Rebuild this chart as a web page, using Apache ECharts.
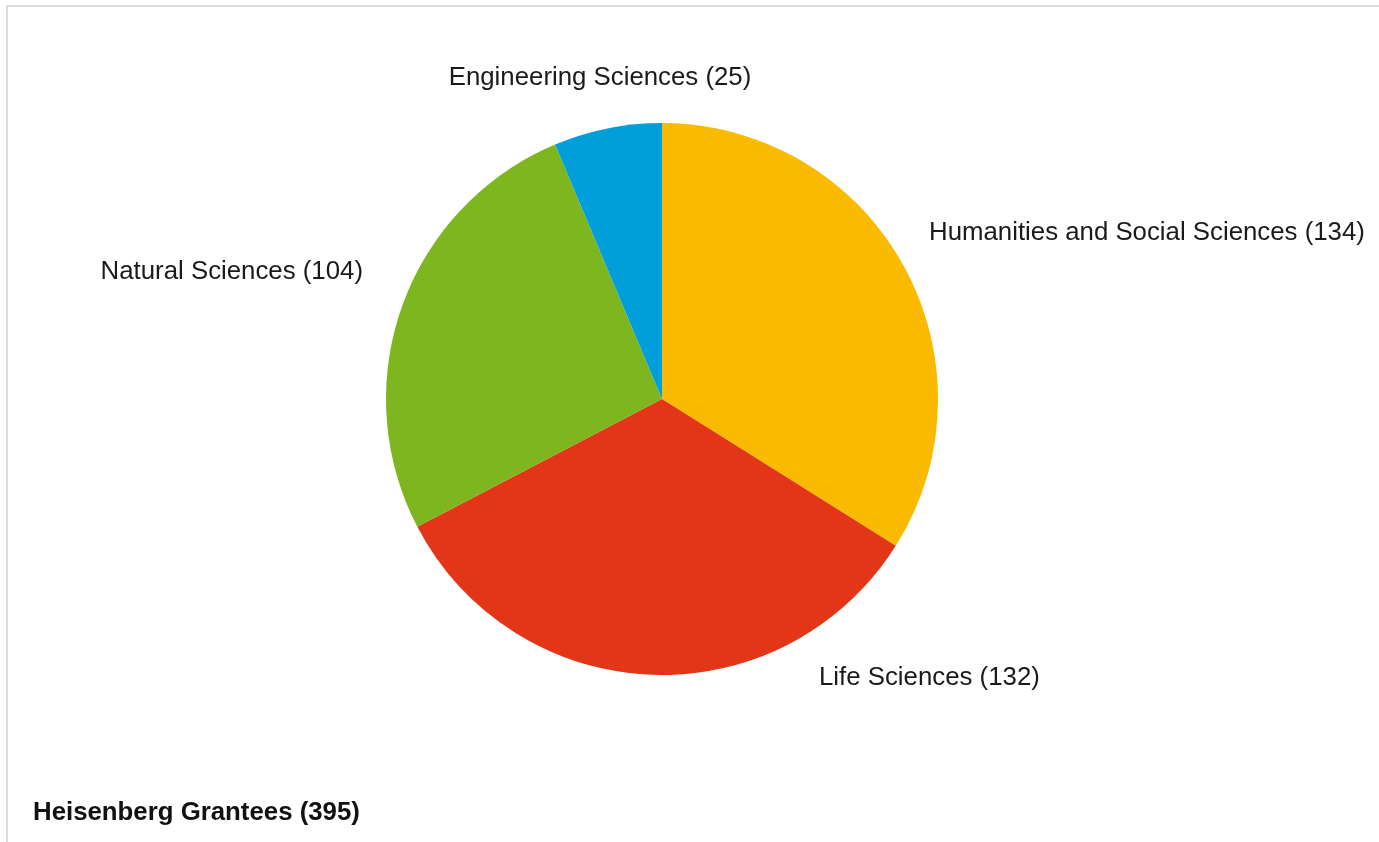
<!DOCTYPE html>
<html>
<head>
<meta charset="utf-8">
<script src="https://cdn.jsdelivr.net/npm/echarts@6/dist/echarts.min.js"></script>
<style>
html,body{margin:0;padding:0;background:#fff;}
#chart{width:1379px;height:842px;}
</style>
</head>
<body>
<div id="chart"></div>
<script>
// Data
const categories = ['Humanities and Social Sciences', 'Life Sciences', 'Natural Sciences', 'Engineering Sciences'];
const values = [134, 132, 104, 25];
const colors = ['#F9BA00', '#E33517', '#7DB61F', '#009FDA'];
const titleText = 'Heisenberg Grantees (395)';

// Label placement (text positions, px)
const labelPlacement = [
  { x: 929, y: 233, align: 'left' },
  { x: 819, y: 678, align: 'left' },
  { x: 363, y: 272, align: 'right' },
  { x: 600, y: 78, align: 'center' }
];

const chart = echarts.init(document.getElementById('chart'), null, { renderer: 'canvas' });
const FONT = '"Liberation Sans", Arial, sans-serif';

chart.setOption({
  backgroundColor: '#ffffff',
  animation: false,
  title: {
    text: titleText,
    left: 33,
    top: 800,
    padding: 0,
    textStyle: { fontFamily: FONT, fontWeight: 'bold', fontSize: 25.8, color: '#111111' }
  },
  graphic: [
    { type: 'rect', left: 6, top: 5, shape: { width: 1373, height: 2 }, style: { fill: '#dcdcdc' }, silent: true },
    { type: 'rect', left: 6, top: 5, shape: { width: 2, height: 837 }, style: { fill: '#dcdcdc' }, silent: true }
  ],
  series: [{
    type: 'pie',
    center: [662, 399],
    radius: [0, 276],
    startAngle: 90,
    clockwise: true,
    avoidLabelOverlap: false,
    data: categories.map((c, i) => ({ name: c, value: values[i], itemStyle: { color: colors[i] } })),
    label: {
      show: true,
      position: 'outside',
      formatter: p => p.name + ' (' + p.value + ')',
      fontFamily: FONT,
      fontSize: 25.8,
      color: '#1a1a1a'
    },
    labelLine: { show: false },
    labelLayout: function (params) {
      const p = labelPlacement[params.dataIndex];
      return { x: p.x, y: p.y, align: p.align, verticalAlign: 'middle', hideOverlap: false };
    },
    emphasis: { disabled: true }
  }]
});
</script>
</body>
</html>
